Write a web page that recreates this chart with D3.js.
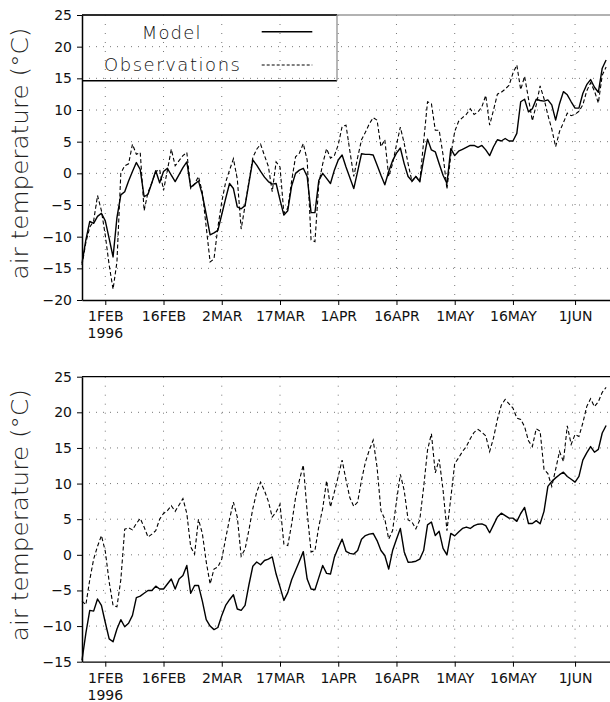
<!DOCTYPE html>
<html>
<head>
<meta charset="utf-8">
<script src="https://cdn.jsdelivr.net/npm/d3@7"></script>
<style>
  body { margin: 0; background: #fff; }
  svg { display: block; }
</style>
</head>
<body>
<svg width="610" height="702"></svg>
<script>
// daily series start on 26 Jan 1996
const startDate = new Date(1996, 0, 26);
const endDate = new Date(1996, 5, 10);

const tickDates = [
    new Date(1996, 1, 1), new Date(1996, 1, 16), new Date(1996, 2, 2),
    new Date(1996, 2, 17), new Date(1996, 3, 1), new Date(1996, 3, 16),
    new Date(1996, 4, 1), new Date(1996, 4, 16), new Date(1996, 5, 1)
];
const tickLabels = ["1FEB", "16FEB", "2MAR", "17MAR", "1APR", "16APR", "1MAY", "16MAY", "1JUN"];
const yearLabel = "1996";
const seriesNames = ["Model", "Observations"];
const yTitle = "air  temperature  (°C)";

const topTicks = [-20, -15, -10, -5, 0, 5, 10, 15, 20, 25];
const bottomTicks = [-15, -10, -5, 0, 5, 10, 15, 20, 25];

const modelTop = [
    -14.2, -10.5, -7.6, -7.9, -6.8, -6.3, -7.5, -10.3, -13.2, -7.0,
    -3.4, -2.9, -1.2, 0.3, 1.7, 0.6, -3.7, -3.3, -1.5, 0.4,
    -1.5, 0.3, 0.8, -0.3, -1.3, -0.2, 0.9, 1.8, -2.2, -1.7,
    -1.2, -3.4, -6.5, -9.7, -9.4, -9.0, -6.5, -4.0, -1.6, -2.4,
    -5.3, -5.6, -5.1, -1.5, 2.1, 1.3, 0.3, -0.6, -1.3, -1.7,
    -1.6, -4.2, -6.6, -5.9, -2.0, 0.0, 0.5, 0.8, -0.5, -6.2,
    -6.2, -1.1, 0.0, -0.8, -1.6, 0.5, 2.1, 2.9, 1.0, -0.7,
    -2.4, 0.3, 3.1, 3.0, 3.0, 2.9, 1.3, -0.3, -1.8, 0.3,
    2.0, 3.2, 4.0, 1.5, -0.5, -1.2, -0.5, -1.3, 2.2, 5.4,
    3.7, 3.4, 1.5, -0.3, -1.6, 3.9, 2.8, 3.5, 3.8, 4.1,
    4.4, 4.4, 4.1, 4.4, 3.7, 2.8, 4.2, 5.3, 5.1, 5.5,
    5.1, 5.1, 6.3, 11.3, 11.7, 9.7, 10.2, 11.7, 11.5, 11.4,
    11.6, 10.8, 8.4, 11.0, 12.9, 12.4, 11.3, 10.3, 10.3, 12.6,
    14.0, 14.8, 13.6, 12.8, 16.6, 17.9
];

const obsTop = [
    -14.5, -10.9, -8.5, -7.5, -3.5, -5.9, -9.8, -14.5, -18.3, -14.0,
    0.0, 1.2, 1.5, 4.6, 3.0, 3.3, -5.9, -3.0, -1.5, 0.3,
    0.6, -2.7, 0.5, 3.8, 1.2, 2.0, 2.8, 3.3, -2.4, -1.7,
    -0.5, -3.0, -8.5, -14.0, -13.5, -8.5, -4.5, -1.4, 0.5, 2.3,
    -0.9, -8.8, -5.1, -1.3, 2.5, 3.8, 4.6, 2.8, 1.1, -2.9,
    1.8, 1.0, -6.3, -5.5, -1.2, 2.6, 3.2, 4.7, 2.1, -10.5,
    -10.8, -1.6, 1.5, 3.9, 2.4, 2.8, 4.5, 7.4, 7.6, 3.5,
    -0.5, 2.5, 5.3, 6.5, 7.8, 8.8, 8.4, 4.2, 5.3, -0.5,
    1.5, 4.5, 7.3, 4.7, 1.5, -1.3, -0.5, -1.3, 5.0, 11.3,
    11.0, 6.8, 6.8, 2.9, -2.5, 2.9, 6.6, 8.2, 8.8, 9.3,
    10.2, 9.3, 9.7, 10.5, 12.3, 7.6, 10.0, 12.5, 12.8, 13.3,
    13.9, 15.8, 17.1, 13.2, 15.3, 11.8, 8.3, 10.8, 13.8, 11.8,
    9.2, 7.0, 4.2, 6.6, 8.0, 9.5, 9.1, 9.3, 9.8, 10.8,
    13.0, 14.3, 13.0, 11.1, 15.5, 16.8
];

const modelBottom = [
    -14.8, -11.0, -7.8, -7.9, -6.2, -7.1, -9.5, -11.8, -12.2, -10.4,
    -9.1, -10.1, -9.6, -8.5, -6.0, -5.8, -5.4, -5.0, -5.0, -4.4,
    -4.8, -4.8, -4.1, -3.4, -4.8, -3.4, -2.9, -1.5, -5.4, -4.3,
    -4.3, -6.5, -9.1, -10.0, -10.5, -10.2, -8.5, -7.1, -6.3, -5.6,
    -7.6, -7.8, -7.1, -4.2, -1.6, -1.0, -1.4, -0.8, -0.6, -0.3,
    -2.7, -4.5, -6.4, -5.3, -3.5, -2.2, -0.9, 0.45, -3.4, -4.8,
    -4.9, -3.2, -1.5, -2.6, -2.7, -0.35, 1.0, 2.2, 0.5, 0.2,
    0.1, 0.6, 2.2, 2.7, 2.9, 3.0, 2.0, 0.6, -0.1, -2.0,
    0.6, 2.2, 3.7, 0.4, -1.05, -1.0, -0.9, -0.6, 0.6, 4.2,
    4.6, 2.7, 3.3, 0.9, 0.0, 3.0, 2.66, 3.2, 3.7, 3.9,
    3.7, 4.1, 4.3, 4.35, 4.1, 3.1, 4.2, 5.3, 5.85, 5.5,
    5.15, 5.15, 4.7, 5.8, 6.65, 4.4, 4.4, 4.8, 4.35, 6.1,
    9.6, 10.3, 10.8, 11.25, 11.6, 11.0, 10.6, 10.2, 11.0, 13.3,
    14.3, 15.2, 14.4, 14.8, 17.1, 18.15
];

const obsBottom = [
    -6.5, -7.0, -3.5, -0.6, 1.2, 2.7, 0.5, -3.8, -7.1, -7.3,
    -3.5, 3.6, 3.8, 3.5, 4.4, 5.1, 3.9, 2.5, 2.9, 3.4,
    5.0, 5.8, 6.2, 6.9, 6.1, 7.0, 7.9, 5.8, 1.1, 0.1,
    5.0, 3.0, -1.0, -4.1, -2.0, -1.7, -0.6, 2.3, 5.0, 7.4,
    5.3, -0.2, 0.8, 3.5, 6.5, 8.8, 10.2, 9.0, 7.5, 5.3,
    6.0, 7.1, 1.5, 1.3, 4.3, 8.0, 10.5, 12.6, 6.0, 0.4,
    0.6, 4.0, 6.5, 10.4, 6.7, 8.8, 11.0, 13.3, 10.5, 8.0,
    6.8, 7.4, 10.5, 13.0, 14.7, 16.1, 12.3, 6.2, 5.0, 2.2,
    3.4, 7.5, 11.3, 9.0, 4.9, 4.6, 3.65, 4.9, 9.5, 14.7,
    17.0, 11.5, 13.4, 9.1, 3.4, 8.0, 12.8, 13.6, 14.5, 15.2,
    16.3, 17.2, 17.6, 17.2, 16.7, 14.5, 16.4, 19.0, 21.0, 21.8,
    21.2, 20.6, 19.2, 19.0, 18.0, 16.0, 15.2, 17.7, 17.35, 12.0,
    11.4, 9.6, 12.0, 14.5, 13.1, 18.1, 15.5, 16.9, 16.6, 18.5,
    20.8, 21.9, 20.8, 21.5, 22.8, 23.5
];

const svg = d3.select("svg");
const left = 82, right = 610;
const font = "DejaVu Sans, sans-serif";

const x = d3.scaleTime()
    .domain([startDate, endDate])
    .range([left, right]);

function toPoints(values) {
    return values.map((v, i) => ({ date: d3.timeDay.offset(startDate, i), value: v }));
}

function drawPanel(top, bottom, yDomain, ticks, model, obs, showLegend, topColor) {
    const g = svg.append("g");

    const y = d3.scaleLinear()
        .domain(yDomain)
        .range([bottom, top]);

    // dotted grid
    g.append("g").selectAll("line")
        .data(ticks.slice(1, -1))
        .enter().append("line")
        .attr("x1", left).attr("x2", right)
        .attr("y1", d => y(d)).attr("y2", d => y(d))
        .attr("stroke", "#777")
        .attr("stroke-width", 1)
        .attr("stroke-dasharray", "1,6");

    g.append("g").selectAll("line")
        .data(tickDates)
        .enter().append("line")
        .attr("x1", d => x(d)).attr("x2", d => x(d))
        .attr("y1", top).attr("y2", bottom)
        .attr("stroke", "#777")
        .attr("stroke-width", 1)
        .attr("stroke-dasharray", "1,8");

    // top border
    g.append("line")
        .attr("x1", left).attr("x2", right)
        .attr("y1", top).attr("y2", top)
        .attr("stroke", topColor)
        .attr("stroke-width", 1.3);

    const yAxis = g.append("g")
        .attr("transform", `translate(${left},0)`)
        .call(d3.axisLeft(y).tickValues(ticks).tickSize(5).tickSizeOuter(0).tickPadding(5));
    yAxis.select(".domain").attr("stroke-width", 1.5);
    yAxis.selectAll("text")
        .attr("font-family", font)
        .attr("font-size", "14px")
        .attr("fill", "#111");

    const xAxis = g.append("g")
        .attr("transform", `translate(0,${bottom})`)
        .call(d3.axisBottom(x)
            .tickValues(tickDates)
            .tickFormat((d, i) => tickLabels[i])
            .tickSize(5).tickSizeOuter(0).tickPadding(6));
    xAxis.select(".domain").attr("stroke-width", 1.3);
    xAxis.selectAll("text")
        .attr("font-family", font)
        .attr("font-size", "14px")
        .attr("fill", "#111");

    g.append("text")
        .attr("x", x(tickDates[0]))
        .attr("y", bottom + 38)
        .attr("text-anchor", "middle")
        .attr("font-family", font)
        .attr("font-size", "14px")
        .attr("fill", "#111")
        .text(yearLabel);

    // y title
    g.append("text")
        .attr("transform", `translate(28,${(top + bottom) / 2 - 4}) rotate(-90)`)
        .attr("text-anchor", "middle")
        .attr("font-family", font)
        .attr("font-size", "23px")
        .attr("font-weight", 200)
        .attr("textLength", 252)
        .attr("lengthAdjust", "spacingAndGlyphs")
        .attr("fill", "#222")
        .text(yTitle);

    const line = d3.line()
        .x(d => x(d.date))
        .y(d => y(d.value));

    g.append("path")
        .datum(toPoints(obs))
        .attr("fill", "none")
        .attr("stroke", "#000")
        .attr("stroke-width", 1.1)
        .attr("stroke-dasharray", "4,2.5")
        .attr("d", line);

    g.append("path")
        .datum(toPoints(model))
        .attr("fill", "none")
        .attr("stroke", "#000")
        .attr("stroke-width", 1.4)
        .attr("stroke-linejoin", "round")
        .attr("d", line);

    if (showLegend) {
        const boxRight = 337, boxBottom = 80.7;
        g.append("line")
            .attr("x1", left).attr("x2", boxRight)
            .attr("y1", top).attr("y2", top)
            .attr("stroke", "#000").attr("stroke-width", 1.3);
        g.append("line")
            .attr("x1", left).attr("x2", boxRight)
            .attr("y1", boxBottom).attr("y2", boxBottom)
            .attr("stroke", "#000").attr("stroke-width", 1.6);
        g.append("line")
            .attr("x1", boxRight).attr("x2", boxRight)
            .attr("y1", top).attr("y2", boxBottom)
            .attr("stroke", "#888").attr("stroke-width", 1.2);

        g.append("text")
            .attr("x", 171.7).attr("y", 38.5)
            .attr("text-anchor", "middle")
            .attr("font-family", font)
            .attr("font-size", "18px")
            .attr("font-weight", 200)
            .attr("letter-spacing", "1.2px")
            .attr("fill", "#111")
            .text(seriesNames[0]);
        g.append("text")
            .attr("x", 104).attr("y", 71)
            .attr("font-family", font)
            .attr("font-size", "18px")
            .attr("font-weight", 200)
            .attr("textLength", 136)
            .attr("fill", "#111")
            .text(seriesNames[1]);

        g.append("line")
            .attr("x1", 261.7).attr("x2", 312.3)
            .attr("y1", 31.7).attr("y2", 31.7)
            .attr("stroke", "#000").attr("stroke-width", 1.4);
        g.append("line")
            .attr("x1", 261.7).attr("x2", 312.3)
            .attr("y1", 65).attr("y2", 65)
            .attr("stroke", "#000").attr("stroke-width", 1)
            .attr("stroke-dasharray", "3,2");
    }
}

drawPanel(15, 300, [-20, 25], topTicks, modelTop, obsTop, true, "#999");
drawPanel(376.7, 661.7, [-15, 25], bottomTicks, modelBottom, obsBottom, false, "#000");
</script>
</body>
</html>
